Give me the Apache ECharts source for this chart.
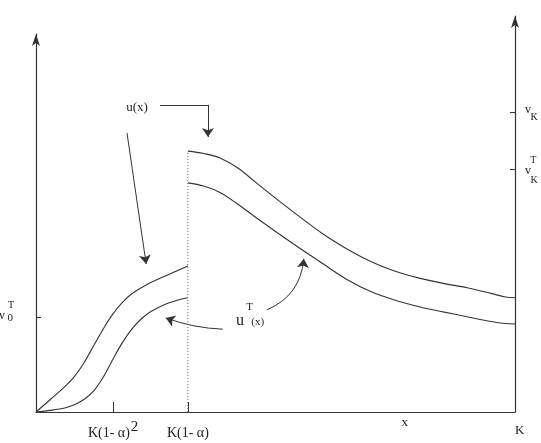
<!DOCTYPE html>
<html><head><meta charset="utf-8">
<script src="https://cdn.jsdelivr.net/npm/echarts@6/dist/echarts.min.js"></script>
<style>html,body{margin:0;padding:0;background:#fff}#c{width:541px;height:443px}</style>
</head><body><div id="c"></div>
<script>
// ---- data (x: 0..100 = 0..K, y: arbitrary value units) ----
const kAlpha2 = 16.1;   // K(1-α)^2
const kAlpha = 31.7;    // K(1-α)
const xTickValues = [kAlpha2, kAlpha];
const v0T = 23.6;
const vK = 74.6;
const vKT = 60.4;

const uLeft = [[0,0],[3,3.1],[6,6.3],[8,8.8],[10,12.2],[12,16.4],[14,20.6],[16,24.3],[18,27.2],[20,29.4],[23,31.6],[26,33.3],[29,34.9],[31.7,36.3]];
const uTLeft = [[0,0],[3,0.4],[6,1.0],[8,1.8],[10,3.1],[12,5.2],[14,8.6],[16,13.0],[18,17.2],[20,20.6],[22,23.2],[24,25.0],[27,26.8],[29.5,27.8],[31.7,28.4]];
const uRight = [[31.7,64.9],[35,64.3],[38.4,63.2],[42,60.8],[46,57.0],[50,53.2],[55,48.6],[60,44.2],[65,40.5],[70,37.4],[75,35.0],[80,33.3],[85,32.0],[90,30.9],[95,29.5],[98,28.6],[100,28.4]];
const uTRight = [[31.7,57.0],[35,56.2],[38.4,54.6],[42,51.8],[46,48.3],[50,44.9],[55,40.8],[60,36.8],[65,32.9],[70,29.9],[75,27.8],[80,26.2],[85,24.9],[90,23.7],[95,22.5],[98,22.0],[100,21.9]];
const divider = [[kAlpha,0],[kAlpha,64.9]];

// annotation arrows (data coordinates)
const arrowUxBar = [[25.9,76.4],[35.9,76.4]];
const arrowUxDown = [[35.9,76.4],[35.9,68.4]];
const arrowUxLeft = [[19.0,69.4],[23.0,36.8]];
const arrowUTRight = [[48.2,25.4],[55.9,38.1]];
const arrowUTLeft = [[39.0,20.6],[27.1,23.4]];

const ink = '#333';
const serif = '"Liberation Serif", "DejaVu Serif", serif';
const axisLineStyle = {color: ink, width: 1.2};
const curveStyle = {color: ink, width: 1.1};

const chart = echarts.init(document.getElementById('c'), null, {renderer: 'canvas'});
const option = {
  animation: false,
  backgroundColor: '#fff',
  grid: [
    {left: 36, right: 26, top: 16, bottom: 31},
    {left: 36, right: 26, top: 34, bottom: 31}
  ],
  xAxis: [
    {type: 'value', gridIndex: 0, min: 0, max: 100,
     axisLine: {show: true, lineStyle: axisLineStyle},
     axisTick: {show: true, inside: true, length: 10, customValues: xTickValues, lineStyle: {color: ink, width: 1}},
     axisLabel: {show: true, customValues: xTickValues, margin: 7,
       formatter: v => (Math.abs(v - kAlpha2) < 1e-6 ? '{m|K(1- α)}{s|2}' : '{m|K(1- α)}'),
       rich: {
         m: {fontFamily: serif, fontSize: 14, color: '#222', lineHeight: 28},
         s: {fontFamily: serif, fontSize: 15, color: '#222', padding: [0, 0, 12, 1]}
       }},
     splitLine: {show: false}},
    {type: 'value', gridIndex: 1, min: 0, max: 100, show: false}
  ],
  yAxis: [
    {type: 'value', gridIndex: 0, position: 'right', min: 0, max: 98.5,
     axisLine: {show: true, onZero: false, symbol: ['none', 'arrow'], symbolSize: [6, 12], lineStyle: axisLineStyle},
     axisTick: {show: true, inside: true, length: 5, customValues: [vKT, vK], lineStyle: {color: ink}},
     axisLabel: {show: false}, splitLine: {show: false}},
    {type: 'value', gridIndex: 1, position: 'left', min: 0, max: 94.03,
     axisLine: {show: true, onZero: false, symbol: ['none', 'arrow'], symbolSize: [6, 12], lineStyle: axisLineStyle},
     axisTick: {show: true, inside: true, length: 5, customValues: [v0T], lineStyle: {color: ink}},
     axisLabel: {show: false}, splitLine: {show: false}}
  ],
  series: [
    {type: 'line', name: 'u(x) left', data: uLeft, showSymbol: false, smooth: 0.35, lineStyle: curveStyle, silent: true},
    {type: 'line', name: 'uT(x) left', data: uTLeft, showSymbol: false, smooth: 0.35, lineStyle: curveStyle, silent: true},
    {type: 'line', name: 'u(x) right', data: uRight, showSymbol: false, smooth: 0.35, lineStyle: curveStyle, silent: true},
    {type: 'line', name: 'uT(x) right', data: uTRight, showSymbol: false, smooth: 0.35, lineStyle: curveStyle, silent: true},
    {type: 'line', name: 'divider', data: divider, showSymbol: false, lineStyle: {color: '#666', width: 1, type: [1, 2]}, silent: true},
    {type: 'lines', coordinateSystem: 'cartesian2d', symbol: ['none', 'none'],
     lineStyle: {color: ink, width: 1, opacity: 1}, data: [{coords: arrowUxBar}], silent: true},
    {type: 'lines', coordinateSystem: 'cartesian2d', symbol: ['none', 'arrow'], symbolSize: 9,
     lineStyle: {color: ink, width: 1, opacity: 1},
     data: [
       {coords: arrowUxDown, lineStyle: {curveness: 0}},
       {coords: arrowUxLeft, lineStyle: {curveness: 0}},
       {coords: arrowUTRight, lineStyle: {curveness: -0.3}},
       {coords: arrowUTLeft, lineStyle: {curveness: 0.08}}
     ], silent: true}
  ]
};
chart.setOption(option);

// text annotations anchored to data coordinates
const texts = [
  {t: 'u(x)', p: [21.1, 75.6], fs: 13},
  {t: 'u', p: [42.6, 22.6], fs: 16},
  {t: 'T', p: [44.6, 26.1], fs: 11},
  {t: '(x)', p: [46.3, 22.4], fs: 11},
  {t: 'x', p: [77.0, -2.7], fs: 13},
  {t: 'K', p: [101.0, -4.5], fs: 13},
  {t: 'v', p: [-7.1, 23.9], fs: 12},
  {t: 'T', p: [-5.2, 26.6], fs: 10},
  {t: '0', p: [-5.4, 23.4], fs: 11},
  {t: 'v', p: [102.7, 75.1], fs: 12},
  {t: 'K', p: [104.0, 73.4], fs: 10},
  {t: 'T', p: [103.8, 62.7], fs: 10},
  {t: 'v', p: [102.7, 60.0], fs: 12},
  {t: 'K', p: [104.0, 57.7], fs: 10}
];
const graphic = texts.map(o => {
  const px = chart.convertToPixel({gridIndex: 0}, o.p);
  return {type: 'text', x: px[0], y: px[1], silent: true,
    style: {text: o.t, fontFamily: serif, fontSize: o.fs, fill: '#222', align: 'center', verticalAlign: 'middle'}};
});
chart.setOption({graphic: graphic});
</script>
</body></html>
